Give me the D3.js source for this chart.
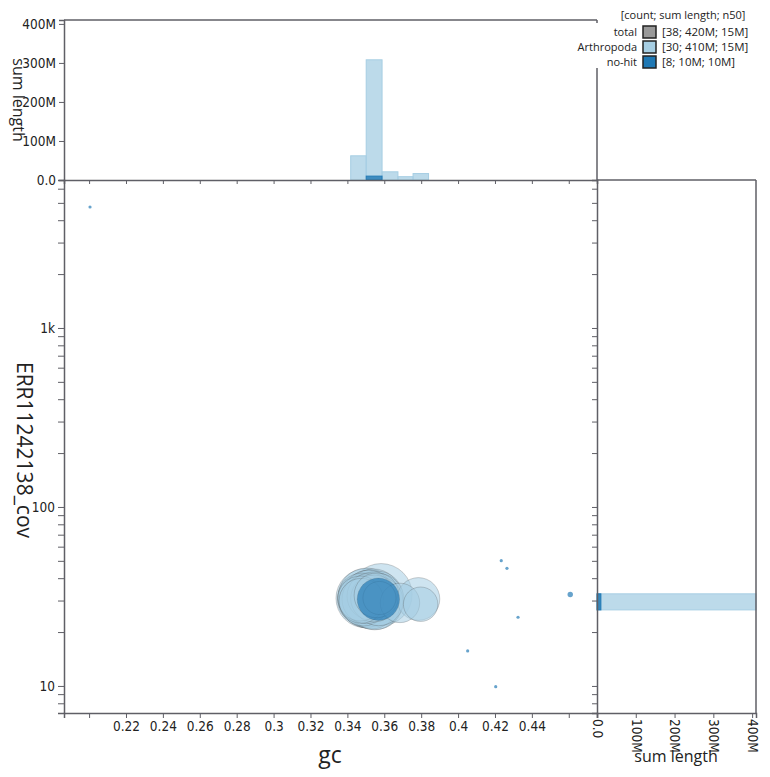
<!DOCTYPE html>
<html>
<head>
<meta charset="utf-8">
<script src="https://cdn.jsdelivr.net/npm/d3@7"></script>
<style>
  body { margin: 0; background: #fff; }
  svg { display: block; }
  text { fill: #222; }
</style>
</head>
<body>
<svg width="770" height="777"></svg>
<script>
// Arthropoda contigs: gc, coverage, length (Mb)
const arthGc  = [0.3484, 0.3480, 0.3488, 0.3470, 0.3476,
                 0.3498, 0.3505, 0.3512, 0.3520, 0.3528, 0.3535, 0.3542, 0.3550, 0.3556, 0.3560, 0.3565,
                 0.3500, 0.3515, 0.3532, 0.3548, 0.3570, 0.3503, 0.3525, 0.3545, 0.3558, 0.3574,
                 0.3583, 0.3685, 0.3785, 0.3797];
const arthCov = [30.4, 31.2, 29.6, 30.8, 29.9,
                 30.9, 31.5, 30.2, 31.0, 29.5, 30.6, 31.8, 30.0, 29.0, 31.3, 30.4,
                 29.4, 32.0, 28.8, 28.5, 29.7, 30.5, 31.7, 30.8, 32.1, 31.0,
                 32.4, 29.1, 30.6, 28.6];
const arthLen = [14, 13, 13, 11, 11,
                 19, 18, 17, 17, 16, 16, 16, 15, 15, 15, 15,
                 14, 14, 14, 14, 13, 13, 12, 12, 11, 6,
                 21, 8.5, 10, 6.5];

// no-hit contigs
const nohitGc  = [0.3568, 0.2005, 0.4234, 0.4265, 0.4325, 0.4052, 0.4204, 0.4608];
const nohitCov = [30.5, 4740, 50.1, 45.4, 24.2, 15.7, 9.9, 32.4];
const nohitLen = [9.8, 0.03, 0.045, 0.045, 0.045, 0.045, 0.045, 0.16];

// gc histogram (top), sum length in Mb per bin
const gcBinEdges = [0.3418, 0.3502, 0.3588, 0.3674, 0.3756, 0.3840];
const arthGcSum  = [62, 308, 21, 8.5, 16.5];
const nohitGcSum = [0, 10, 0, 0, 0];

// coverage histogram (right)
const covBinEdges = [26.6, 32.7];
const arthCovSum  = [410];
const nohitCovSum = [10];

const gcTicks  = [0.2, 0.22, 0.24, 0.26, 0.28, 0.3, 0.32, 0.34, 0.36, 0.38, 0.4, 0.42, 0.44, 0.46];
const gcLabels = ["", "0.22", "0.24", "0.26", "0.28", "0.3", "0.32", "0.34", "0.36", "0.38", "0.4", "0.42", "0.44", ""];
const covMajor = [10, 100, 1000];
const covMajorLabels = ["10", "100", "1k"];
const lenTicks  = [0, 100, 200, 300, 400];
const lenLabels = ["0.0", "100M", "200M", "300M", "400M"];

const legendNames  = ["total", "Arthropoda", "no-hit"];
const legendStats  = ["[38; 420M; 15M]", "[30; 410M; 15M]", "[8; 10M; 10M]"];
const legendColors = ["#999999", "#a6cee3", "#1f78b4"];

const light = "#a6cee3", dark = "#1f78b4", axisCol = "#5f5f66";

const svg = d3.select("svg");
const L = 64, R = 597, T = 180, B = 713, HT = 20, HR = 756;

const x = d3.scaleLinear().domain([0.1864, 0.4753]).range([L, R]);
const y = d3.scaleLog().domain([7.06, 6710]).range([B, T]);
const r = d3.scaleSqrt().domain([0, 21]).range([0, 31]);
const hY = d3.scaleLinear().domain([0, 410]).range([T, HT]);
const hX = d3.scaleLinear().domain([0, 410]).range([R, HR]);

// minor log ticks
const covTicks = [];
[1, 10, 100, 1000].forEach(p => d3.range(1, 10).forEach(m => {
    const v = p * m;
    if (v >= 7.06 && v <= 6710) covTicks.push(v);
}));

// ---- top histogram ----
const topBars = svg.append("g");
topBars.selectAll("rect.arth")
    .data(arthGcSum)
    .enter().append("rect")
    .attr("x", (d, i) => x(gcBinEdges[i]))
    .attr("width", (d, i) => x(gcBinEdges[i + 1]) - x(gcBinEdges[i]))
    .attr("y", d => hY(d))
    .attr("height", d => T - hY(d))
    .attr("fill", light).attr("fill-opacity", 0.75)
    .attr("stroke", light).attr("stroke-width", 1);
topBars.selectAll("rect.nohit")
    .data(nohitGcSum)
    .enter().append("rect")
    .attr("x", (d, i) => x(gcBinEdges[i]))
    .attr("width", (d, i) => x(gcBinEdges[i + 1]) - x(gcBinEdges[i]))
    .attr("y", d => hY(d))
    .attr("height", d => T - hY(d))
    .attr("fill", dark).attr("fill-opacity", 0.8)
    .attr("stroke", dark).attr("stroke-opacity", d => d > 0 ? 0.9 : 0);

// ---- right histogram ----
const sideBars = svg.append("g");
sideBars.selectAll("rect.arth")
    .data(arthCovSum)
    .enter().append("rect")
    .attr("x", R)
    .attr("width", d => Math.min(hX(d), HR) - R)
    .attr("y", (d, i) => y(covBinEdges[i + 1]))
    .attr("height", (d, i) => y(covBinEdges[i]) - y(covBinEdges[i + 1]))
    .attr("fill", light).attr("fill-opacity", 0.75)
    .attr("stroke", light);
sideBars.selectAll("rect.nohit")
    .data(nohitCovSum)
    .enter().append("rect")
    .attr("x", R)
    .attr("width", d => hX(d) - R)
    .attr("y", (d, i) => y(covBinEdges[i + 1]))
    .attr("height", (d, i) => y(covBinEdges[i]) - y(covBinEdges[i + 1]))
    .attr("fill", dark).attr("fill-opacity", 0.85)
    .attr("stroke", dark);

// ---- scatter ----
const arth = arthGc.map((g, i) => ({gc: g, cov: arthCov[i], len: arthLen[i]}));
const nohit = nohitGc.map((g, i) => ({gc: g, cov: nohitCov[i], len: nohitLen[i]}));
arth.sort((a, b) => b.len - a.len);

const pts = svg.append("g");
pts.selectAll("circle.arth")
    .data(arth)
    .enter().append("circle")
    .attr("cx", d => x(d.gc)).attr("cy", d => y(d.cov)).attr("r", d => r(d.len))
    .attr("fill", light).attr("fill-opacity", 0.55)
    .attr("stroke", "#444").attr("stroke-opacity", 0.3).attr("stroke-width", 0.8);
pts.selectAll("circle.nohit")
    .data(nohit)
    .enter().append("circle")
    .attr("cx", d => x(d.gc)).attr("cy", d => y(d.cov)).attr("r", d => Math.max(r(d.len), 1.6))
    .attr("fill", dark).attr("fill-opacity", 0.68)
    .attr("stroke", d => d.len > 1 ? "#333" : "none").attr("stroke-opacity", 0.25).attr("stroke-width", 0.6);

// ---- axes ----
function styleAxis(g) {
    g.selectAll(".domain").attr("stroke", axisCol).attr("stroke-width", 1.5);
    g.selectAll(".tick line").attr("stroke", axisCol).attr("stroke-width", 1);
    g.selectAll(".tick text").attr("fill", "#222")
        .style("font-family", "'DejaVu Sans Condensed', 'DejaVu Sans', sans-serif")
        .style("font-size", "13.5px");
}

svg.append("g").attr("transform", `translate(0,${B})`)
    .call(d3.axisBottom(x).tickValues(gcTicks).tickSize(5).tickPadding(3)
        .tickFormat((d, i) => gcLabels[i]))
    .call(styleAxis);

svg.append("g").attr("transform", `translate(${L},0)`)
    .call(d3.axisLeft(y).tickValues(covTicks).tickSize(6).tickPadding(3)
        .tickFormat(d => { const k = covMajor.indexOf(d); return k >= 0 ? covMajorLabels[k] : ""; }))
    .call(styleAxis);

// top histogram axes
svg.append("g").attr("transform", `translate(0,${T})`)
    .call(d3.axisBottom(x).tickValues(gcTicks).tickSize(4).tickFormat(""))
    .call(styleAxis);
svg.append("g").attr("transform", `translate(${L},0)`)
    .call(d3.axisLeft(hY).tickValues(lenTicks).tickSize(5).tickPadding(3)
        .tickFormat((d, i) => lenLabels[i]))
    .call(styleAxis);

// right histogram axes
svg.append("g").attr("transform", `translate(${R},0)`)
    .call(d3.axisLeft(y).tickValues(covTicks).tickSize(5).tickFormat(""))
    .call(styleAxis);
const bx = svg.append("g").attr("transform", `translate(0,${B})`)
    .call(d3.axisBottom(hX).tickValues(lenTicks).tickSize(5).tickFormat((d, i) => lenLabels[i]))
    .call(styleAxis);
bx.selectAll(".tick text")
    .attr("text-anchor", "start")
    .attr("transform", "translate(0,6) rotate(90)")
    .attr("x", 0).attr("y", 0).attr("dy", "0.35em");

// frames
const frame = svg.append("g").attr("stroke", axisCol).attr("stroke-width", 1.5).attr("fill", "none");
frame.append("line").attr("x1", L).attr("x2", R).attr("y1", HT).attr("y2", HT);
frame.append("line").attr("x1", R).attr("x2", R).attr("y1", HT).attr("y2", T);
frame.append("line").attr("x1", R).attr("x2", HR).attr("y1", T).attr("y2", T);
frame.append("line").attr("x1", HR).attr("x2", HR).attr("y1", T).attr("y2", B);

// ---- titles ----
const title = (txt, px, py, size, rot) => svg.append("text")
    .attr("transform", `translate(${px},${py})` + (rot ? ` rotate(${rot})` : ""))
    .attr("text-anchor", "middle")
    .style("font-family", "'Open Sans', sans-serif")
    .style("font-size", size + "px")
    .text(txt);

title("gc", 330, 763, 23);
title("ERR11242138_cov", 17, 450, 21, 90);
title("sum length", 13, 100, 16, 90);
title("sum length", 676, 762, 16);

// ---- legend ----
const leg = svg.append("g");
leg.append("rect").attr("x", 572).attr("y", 23).attr("width", 198).attr("height", 45).attr("fill", "#fff");
leg.append("text").attr("x", 683).attr("y", 19).attr("text-anchor", "middle")
    .style("font-family", "'Open Sans', sans-serif").style("font-size", "11px")
    .text("[count; sum length; n50]");
const rows = leg.selectAll("g.row")
    .data(legendNames)
    .enter().append("g")
    .attr("transform", (d, i) => `translate(0,${32 + i * 15})`);
rows.append("text").attr("x", 637).attr("dy", "0.35em").attr("text-anchor", "end")
    .style("font-family", "'Open Sans', sans-serif").style("font-size", "11px")
    .text(d => d);
rows.append("rect").attr("x", 643).attr("y", -6).attr("width", 13).attr("height", 12)
    .attr("fill", (d, i) => legendColors[i]).attr("stroke", "#222").attr("stroke-width", 1.5);
rows.append("text").attr("x", 662).attr("dy", "0.35em")
    .style("font-family", "'Open Sans', sans-serif").style("font-size", "11.5px")
    .text((d, i) => legendStats[i]);
</script>
</body>
</html>
